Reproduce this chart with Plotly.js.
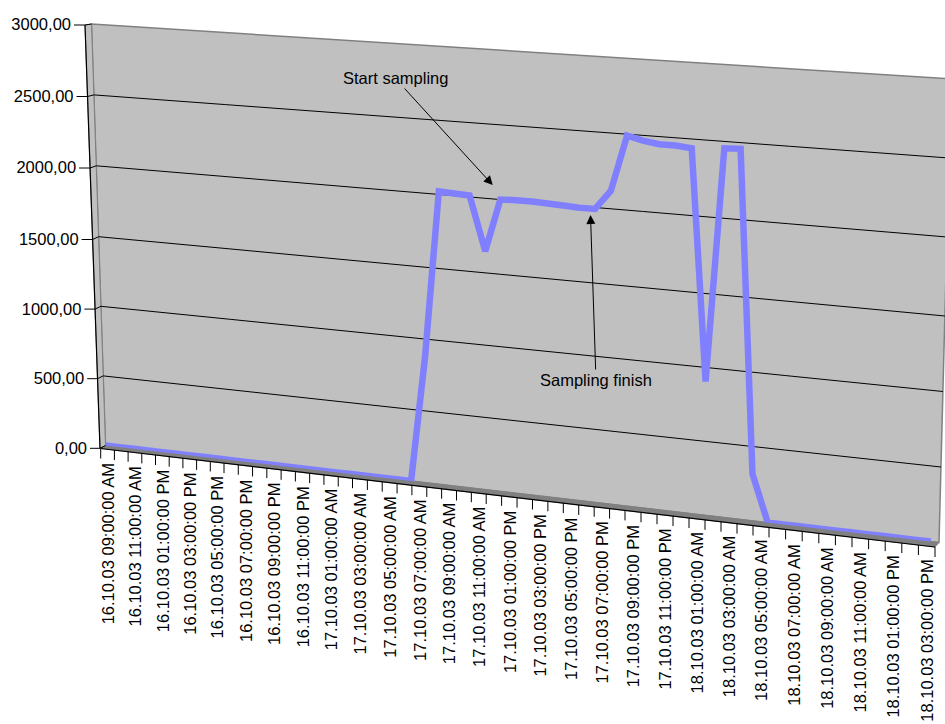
<!DOCTYPE html>
<html><head><meta charset="utf-8">
<script src="https://cdn.plot.ly/plotly-3.0.1.min.js"></script>
<style>html,body{margin:0;padding:0;background:#fff;}#chart{width:945px;height:724px;}</style>
</head><body><div id="chart"></div>
<script>
// ---------------- data ----------------
const categories = [
"16.10.03 09:00:00 AM","16.10.03 10:00:00 AM","16.10.03 11:00:00 AM","16.10.03 12:00:00 PM",
"16.10.03 01:00:00 PM","16.10.03 02:00:00 PM","16.10.03 03:00:00 PM","16.10.03 04:00:00 PM",
"16.10.03 05:00:00 PM","16.10.03 06:00:00 PM","16.10.03 07:00:00 PM","16.10.03 08:00:00 PM",
"16.10.03 09:00:00 PM","16.10.03 10:00:00 PM","16.10.03 11:00:00 PM","17.10.03 12:00:00 AM",
"17.10.03 01:00:00 AM","17.10.03 02:00:00 AM","17.10.03 03:00:00 AM","17.10.03 04:00:00 AM",
"17.10.03 05:00:00 AM","17.10.03 06:00:00 AM","17.10.03 07:00:00 AM","17.10.03 08:00:00 AM",
"17.10.03 09:00:00 AM","17.10.03 10:00:00 AM","17.10.03 11:00:00 AM","17.10.03 12:00:00 PM",
"17.10.03 01:00:00 PM","17.10.03 02:00:00 PM","17.10.03 03:00:00 PM","17.10.03 04:00:00 PM",
"17.10.03 05:00:00 PM","17.10.03 06:00:00 PM","17.10.03 07:00:00 PM","17.10.03 08:00:00 PM",
"17.10.03 09:00:00 PM","17.10.03 10:00:00 PM","17.10.03 11:00:00 PM","18.10.03 12:00:00 AM",
"18.10.03 01:00:00 AM","18.10.03 02:00:00 AM","18.10.03 03:00:00 AM","18.10.03 04:00:00 AM",
"18.10.03 05:00:00 AM","18.10.03 06:00:00 AM","18.10.03 07:00:00 AM","18.10.03 08:00:00 AM",
"18.10.03 09:00:00 AM","18.10.03 10:00:00 AM","18.10.03 11:00:00 AM","18.10.03 12:00:00 PM",
"18.10.03 01:00:00 PM","18.10.03 02:00:00 PM","18.10.03 03:00:00 PM"
];
const values = [
0,0,0,0,0,0,0,0,0,0,0,0,0,0,0,0,0,0,0,0,0,0,
870,2020,2015,2010,1645,2000,2005,2005,2000,1995,1990,1990,
2120,2490,2465,2450,2450,2440,905,2455,2460,315,
0,0,0,0,0,0,0,0,0,0,0
];
const valueStep = 500;

// ---------------- geometry of the skewed (3-D looking) frame, in page pixels ----------------
const wallA = [0, 9, 18, 27, 36, 45, 54.5];
const wallB = [0, 1500, 3000];
const wallX = [[105.5,233.8,365.9,501.4,640.7,783.6,939.0],
               [ 98.6,228.9,363.0,500.6,642.0,787.1,944.9],
               [ 91.5,223.8,360.0,499.8,643.4,790.8,951.0]];
const wallY = [[445.5,460.4,475.8,491.6,507.8,524.4,542.5],
               [236.7,248.8,261.4,274.3,287.5,301.2,316.0],
               [ 24.0, 32.5, 41.2, 50.1, 59.3, 68.8, 79.0]];
const leftA = [-1, -0.5, 0];
const leftX = [[90.0,100.0,105.5],[81.6,92.6,98.6],[74.0,85.0,91.5]];
const leftY = [[448.3,448.3,445.5],[239.5,239.5,236.7],[25.0,25.0,24.0]];
const frontA = [-0.5, 8.5, 17.5, 26.5, 35.5, 44.5, 54.5];
const frontX = [100.7,224.0,352.5,486.2,625.0,769.0,935.0];
const frontY = [448.5,463.1,478.2,494.0,510.4,527.4,547.0];
const TICK = 10;

const FONT = {family:"Liberation Sans, Arial, sans-serif", size:16.5, color:"#000"};
const idx = categories.map((c,i)=>i);

function grid(aVals, bVals, X, Y){
  const g = {a:[], b:[], x:[], y:[]};
  bVals.forEach((bv,j)=>aVals.forEach((av,i)=>{ g.a.push(av); g.b.push(bv); g.x.push(X[j][i]); g.y.push(Y[j][i]); }));
  return g;
}
function lerpRow(r0, r1, t){ return r0.map((v,i)=>v+(r1[i]-v)*t); }
function axisOff(){ return {showgrid:false, showticklabels:'none', startline:false, endline:false,
  smoothing:0, color:'#000'}; }

// inner gridlines only (the wall's top and bottom edges are drawn as frame shapes)
const eps = 1;
const gridB = [eps, 1500, 3000-eps];
const gridX = [lerpRow(wallX[0], wallX[1], eps/1500), wallX[1], lerpRow(wallX[1], wallX[2], 1-eps/1500)];
const gridY = [lerpRow(wallY[0], wallY[1], eps/1500), wallY[1], lerpRow(wallY[1], wallY[2], 1-eps/1500)];
const wallGrid = Object.assign({type:'carpet', carpet:'wallgrid'}, grid(wallA, gridB, gridX, gridY), {
  aaxis:axisOff(),
  baxis:Object.assign(axisOff(), {showgrid:true, tickmode:'linear', tick0:0, dtick:valueStep, gridcolor:'#000', gridwidth:1})});
const wallPlane = Object.assign({type:'carpet', carpet:'wall'}, grid(wallA, wallB, wallX, wallY),
  {aaxis:axisOff(), baxis:axisOff()});
const left = Object.assign({type:'carpet', carpet:'left'}, grid(leftA, wallB, leftX, leftY), {
  aaxis:axisOff(),
  baxis:Object.assign(axisOff(), {showgrid:true, tickmode:'linear', tick0:0, dtick:valueStep, gridcolor:'#000', gridwidth:1,
    showticklabels:'start', tickformat:'.2f', tickfont:FONT, labelpadding:3})});
const ticks = Object.assign({type:'carpet', carpet:'ticks'},
  grid(frontA, [0,1], [frontX, frontX], [frontY.map(v=>v+TICK), frontY]), {
  aaxis:Object.assign(axisOff(), {showgrid:true, tickmode:'linear', tick0:-0.5, dtick:1, gridcolor:'#000', gridwidth:1}),
  baxis:axisOff()});
const series = {type:'scattercarpet', carpet:'wall', a:idx, b:values, mode:'lines',
  line:{color:'#8080FF', width:6.5}, hoverinfo:'skip', showlegend:false};

// front-edge position of a category (piecewise linear along the floor's front edge)
function frontAt(a){
  for (let k=0;k<frontA.length-1;k++){
    if (a <= frontA[k+1] || k===frontA.length-2){
      const t = (a-frontA[k])/(frontA[k+1]-frontA[k]);
      return [frontX[k]+t*(frontX[k+1]-frontX[k]), frontY[k]+t*(frontY[k+1]-frontY[k])];
    }
  }
}
const annotations = [];
idx.filter(i=>i%2===0).forEach(i=>{
  const p = frontAt(i);
  annotations.push({x:p[0], y:p[1]+TICK+2, text:categories[i], showarrow:false, textangle:-90,
    xanchor:'center', yanchor:'top', font:FONT});
});
annotations.push(
  {x:492.7, y:185, ax:395, ay:78, axref:'x', ayref:'y', text:'Start sampling', showarrow:true,
   arrowhead:2, arrowsize:1.8, arrowwidth:1, arrowcolor:'#000', font:FONT},
  {x:590.5, y:215, ax:596, ay:380, axref:'x', ayref:'y', text:'Sampling finish', showarrow:true,
   arrowhead:2, arrowsize:1.8, arrowwidth:1, arrowcolor:'#000', font:FONT});

function poly(pts){ return 'M' + pts.map(p=>p[0]+','+p[1]).join(' L') + ' Z'; }
const shapes = [
  {type:'path', layer:'below', path:poly([[wallX[2][0],wallY[2][0]],[wallX[2][6],wallY[2][6]],[wallX[0][6],wallY[0][6]],[wallX[0][0],wallY[0][0]]]),
   fillcolor:'#C0C0C0', line:{color:'#808080', width:1.5}},
  {type:'path', layer:'below', path:poly([[leftX[2][1],leftY[2][1]],[leftX[2][2],leftY[2][2]],[leftX[0][2],leftY[0][2]],[leftX[0][1],leftY[0][1]]]),
   fillcolor:'#C0C0C0', line:{color:'#808080', width:1}},
  {type:'path', layer:'below', path:poly([[wallX[0][0],wallY[0][0]],[wallX[0][6],wallY[0][6]],[frontX[6],frontY[6]],[frontX[0],frontY[0]]]),
   fillcolor:'#808080', line:{color:'#808080', width:1}},
  {type:'line', layer:'above', x0:frontX[0], y0:frontY[0], x1:frontX[6], y1:frontY[6], line:{color:'#000', width:1.2}},
  {type:'line', layer:'above', x0:leftX[2][1], y0:leftY[2][1], x1:leftX[0][1], y1:leftY[0][1], line:{color:'#000', width:1.2}}
];
const layout = {
  width:945, height:724, margin:{l:0,r:0,t:0,b:0}, paper_bgcolor:'#fff', plot_bgcolor:'#fff',
  separators:',.', hovermode:false, showlegend:false,
  xaxis:{range:[0,945], visible:false, fixedrange:true},
  yaxis:{range:[724,0], visible:false, fixedrange:true},
  shapes:shapes, annotations:annotations
};
Plotly.newPlot('chart', [wallGrid, wallPlane, left, ticks, series], layout, {displayModeBar:false, staticPlot:true});
</script></body></html>
